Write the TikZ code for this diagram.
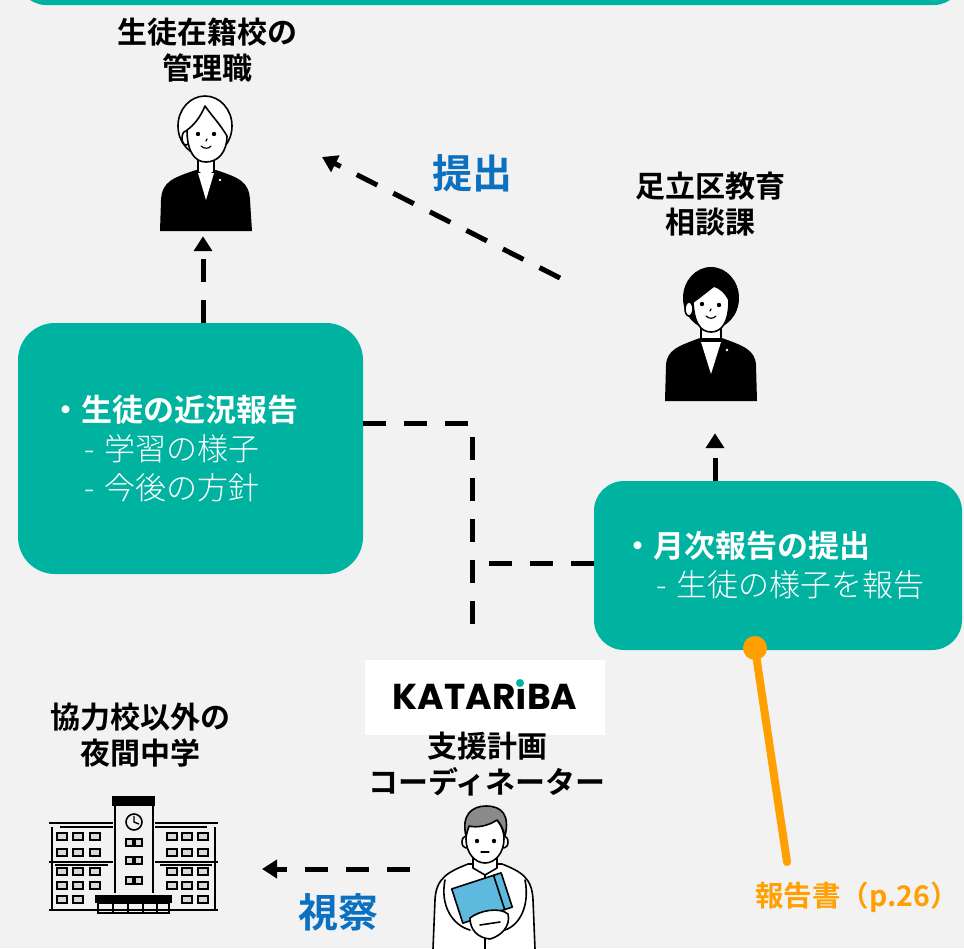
\documentclass[tikz,border=0pt]{standalone}
\usepackage{fontspec}
\setmainfont{Noto Sans CJK JP}[BoldFont={Noto Sans CJK JP Bold}]
\newfontfamily\thinjp{Noto Sans CJK JP Light}
\newfontfamily\logofont{Poppins}[BoldFont={Poppins Bold}]
\usetikzlibrary{arrows.meta, positioning, calc}

\definecolor{bggray}{HTML}{F2F2F2}
\definecolor{boxteal}{HTML}{00B3A0}
\definecolor{actblue}{HTML}{0B70C0}
\definecolor{refyellow}{HTML}{FFA000}
\definecolor{folderblue}{HTML}{5EB9DE}
\definecolor{hairgray}{HTML}{8A8A8A}
\definecolor{wingray}{HTML}{D9D9D9}

\tikzset{
  title/.style={font=\fontsize{30}{36}\selectfont\bfseries, align=center},
  act/.style={font=\fontsize{40}{44}\selectfont\bfseries, text=actblue},
  infobox/.style={fill=boxteal, text=white, align=left, inner ysep=0pt,
    font=\fontsize{31}{39}\selectfont},
  link/.style={line width=5pt, dash pattern=on 23pt off 18pt},
  tip/.style={-{Triangle[width=18pt,length=15pt]}},
  icon/.style={inner sep=0pt},
  ink/.style={line width=1.6pt, line join=round, line cap=round},
}

\begin{document}
\begin{tikzpicture}[x=1pt,y=-1pt]
\useasboundingbox (0,0) rectangle (964,948);
\fill[bggray] (0,0) rectangle (964,948);
\begin{scope}
\clip (0,0) rectangle (964,948);
\fill[boxteal, rounded corners=28pt] (18,-40) rectangle (962,5);
\end{scope}

% icon places (drawn below)
\node[icon, minimum width=92pt, minimum height=146pt] (kanri) at (203,163) {};
\node[icon, minimum width=92pt, minimum height=146pt] (soudan) at (715,333) {};
\node[icon, minimum width=100pt, minimum height=140pt] (coord) at (483,878) {};
\node[icon, minimum width=170pt, minimum height=118pt] (school) at (133,853) {};

% logo
\node[fill=white, minimum width=240pt, minimum height=75pt, inner sep=0pt] (logo) at (485,697)
  {\logofont\bfseries\fontsize{36}{36}\selectfont KATARıBA};
\fill[boxteal] (520,683) circle (4pt);

% titles
\node[title] (kanri-t) at (207,50) {生徒在籍校の\\管理職};
\node[title] (soudan-t) at (710,204) {足立区教育\\相談課};
\node[title] (coord-t) at (487,764) {支援計画\\コーディネーター};
\node[title] (school-t) at (140,735) {協力校以外の\\夜間中学};

% boxes
\node[infobox, rounded corners=37pt, minimum width=345pt, minimum height=251pt,
  text width=281pt, inner xsep=32pt] (box1) at (190.5,448.5)
  {\textbf{・生徒の近況報告}\\
   \hspace*{1.1em}{\thinjp - 学習の様子}\\
   \hspace*{1.1em}{\thinjp - 今後の方針}};
\node[infobox, rounded corners=30pt, minimum width=368pt, minimum height=169pt,
  text width=312pt, inner xsep=28pt] (box2) at (778,565.5)
  {\textbf{・月次報告の提出}\\
   \hspace*{1.1em}{\thinjp - 生徒の様子を報告}};

% connectors
\coordinate (tee-top) at (472,423);
\coordinate (tee-mid) at (472,563);
\coordinate (tee-end) at (472,637);
\coordinate (teishutsu-s) at (560,278);
\coordinate (teishutsu-e) at (322,157);
\coordinate (shisatsu-s) at (410,869);
\coordinate (shisatsu-e) at (262,869);

\draw[link, tip] (box1.north -| kanri) -- (kanri.south);
\draw[link, tip] (box2.north -| soudan) -- ([yshift=-27pt]soudan.south);
\draw[link, tip] (teishutsu-s) -- (teishutsu-e);
\draw[link, tip] (shisatsu-s) -- (shisatsu-e);
\draw[link] (box1.east |- tee-top) -- (tee-top) -- (tee-end);
\draw[link] (box2.west |- tee-mid) -- (tee-mid);

\node[act] (teishutsu) at (472,173) {提出};
\node[act] (shisatsu) at (338,912) {視察};

% report pointer
\node[circle, fill=refyellow, minimum size=24pt, inner sep=0pt] (pin) at (755,648) {};
\coordinate (pin-end) at (787,862);
\draw[refyellow, line width=8pt, line cap=round] (pin.center) -- (pin-end);
\node[font=\fontsize{28.5}{28.5}\selectfont\bfseries, text=refyellow] (report) at (857,897) {報告書（p.26）};

% person: kanri
\fill (160,231) -- (161,200) .. controls (162,182) and (172,178) .. (196,170) -- (216,170)
  .. controls (240,178) and (249,182) .. (250,200) -- (252,231) -- cycle;
\filldraw[fill=white, ink] (198,150) -- (198,172) .. controls (202,176) and (210,176) .. (214,172) -- (214,150);
\fill[white] (198,173) -- (206,200) -- (214,173) -- cycle;
\fill[white] (220,180) circle (1.3pt);
\filldraw[fill=white, ink] (205,126) ellipse [x radius=27pt, y radius=30pt];
\filldraw[fill=white, ink] (186,138) ellipse [x radius=4pt, y radius=7pt];
\filldraw[fill=white, ink] (187,130) .. controls (187,152) and (195,162) .. (206,162)
  .. controls (218,162) and (227,152) .. (227,136) .. controls (220,124) and (212,116) .. (205,106)
  .. controls (200,118) and (193,126) .. (187,130) -- cycle;
\fill (198,134) circle (2.2pt);
\fill (214,134) circle (2.2pt);
\draw[ink, line width=1.2pt] (207,139) -- (206,141);
\draw[ink, line width=1.2pt] (201,146) .. controls (204,149) and (209,149) .. (211,146);

% person: soudan
\fill (711,298) ellipse [x radius=28pt, y radius=31pt];
\filldraw[fill=white, ink] (701,322) -- (701,342) .. controls (705,346) and (717,346) .. (721,342) -- (721,322);
\fill (665,401) -- (666,365) .. controls (667,350) and (678,346) .. (700,338) -- (722,338)
  .. controls (744,346) and (755,350) .. (756,365) -- (757,401) -- cycle;
\fill[white] (701,342) -- (711,374) -- (721,342) -- cycle;
\fill[white] (727,350) circle (1.3pt);
\filldraw[fill=white, ink] (689,309) ellipse [x radius=4pt, y radius=7pt];
\filldraw[fill=white, ink] (693,302) .. controls (694,322) and (700,332) .. (711,332)
  .. controls (722,332) and (729,322) .. (729,300) .. controls (725,292) and (720,288) .. (714,286)
  .. controls (706,292) and (699,298) .. (693,302) -- cycle;
\fill (702,304) circle (2.2pt);
\fill (719,305) circle (2.2pt);
\draw[ink, line width=1.2pt] (711,309) -- (710,311);
\draw[ink, line width=1.2pt] (706,316) .. controls (709,319) and (713,319) .. (716,316);

% person: coordinator
\filldraw[fill=white, ink] (433,949) -- (435,900) .. controls (436,878) and (448,872) .. (468,864)
  -- (502,864) .. controls (522,872) and (532,878) .. (533,900) -- (535,949);
\filldraw[fill=white, ink] (473,856) -- (473,868) -- (485,875) -- (497,868) -- (497,856);
\draw[ink] (485,875) -- (485,949);
\filldraw[fill=white, ink] (466,842) ellipse [x radius=4pt, y radius=6pt];
\filldraw[fill=white, ink] (504,842) ellipse [x radius=4pt, y radius=6pt];
\filldraw[fill=white, ink] (485,839) ellipse [x radius=19pt, y radius=24pt];
\filldraw[fill=hairgray, ink] (466,836) .. controls (461,815) and (472,806) .. (486,806)
  .. controls (502,806) and (510,815) .. (505,836) .. controls (503,828) and (500,823) .. (497,820)
  .. controls (488,826) and (477,828) .. (469,826) -- cycle;
\fill (477,841) circle (2.2pt);
\fill (494,841) circle (2.2pt);
\draw[ink, line width=1.2pt] (481,852) -- (489,852);
\draw[ink] (445,880) .. controls (440,905) and (452,925) .. (470,930);
\draw[ink] (525,880) .. controls (530,905) and (520,925) .. (505,930);
\filldraw[fill=folderblue, ink, rotate around={18:(482,898)}] (456,880) rectangle (508,916);
\draw[ink, rotate around={18:(482,898)}] (500,880) -- (500,916);
\filldraw[fill=white, ink] (470,918) .. controls (480,910) and (500,907) .. (508,914)
  .. controls (511,926) and (501,936) .. (490,939) .. controls (478,938) and (470,930) .. (470,918) -- cycle;
\draw[ink] (480,925) -- (500,922);

% school building
\fill (112,796) rectangle (155,806);
\draw[line width=2pt] (115,806) -- (115,893);
\draw[line width=2pt] (153,806) -- (153,893);
\draw[line width=1.6pt] (134,822) circle (8pt);
\draw[line width=1.4pt] (134,816) -- (134,822) -- (139,824);
\foreach \y in {839,857,877} {
  \filldraw[fill=wingray, line width=1.4pt] (126,\y) rectangle (133,\y+7);
  \filldraw[fill=wingray, line width=1.4pt] (135,\y) rectangle (142,\y+7);
}
% wings
\draw[line width=1.6pt] (49,823) -- (113,823);
\draw[line width=1.6pt] (60,827) -- (113,827);
\draw[line width=1.6pt] (155,823) -- (218,823);
\draw[line width=1.6pt] (155,827) -- (207,827);
\draw[line width=1.6pt] (52,827) -- (52,910);
\draw[line width=1.6pt] (215,827) -- (215,910);
\draw[line width=1.6pt] (49,862) -- (113,862);
\draw[line width=1.6pt] (55,865) -- (108,865);
\draw[line width=1.6pt] (155,862) -- (218,862);
\draw[line width=1.6pt] (160,865) -- (212,865);
\draw[line width=1.6pt] (49,910) -- (218,910);
\foreach \y in {833,849,868,882} {
  \foreach \x in {57,73,90,167,182,198}
    \filldraw[fill=wingray, line width=1.4pt] (\x,\y) rectangle (\x+10,\y+7);
}
\foreach \x in {57,73,182,198}
  \filldraw[fill=wingray, line width=1.4pt] (\x,896) rectangle (\x+10,903);
% entrance
\fill (95,895) rectangle (172,903);
\draw[line width=1.6pt] (98,903) rectangle (169,913);
\foreach \x in {113,128,143,157}
  \draw[line width=1.6pt] (\x,903) -- (\x,913);
\end{tikzpicture}
\end{document}
